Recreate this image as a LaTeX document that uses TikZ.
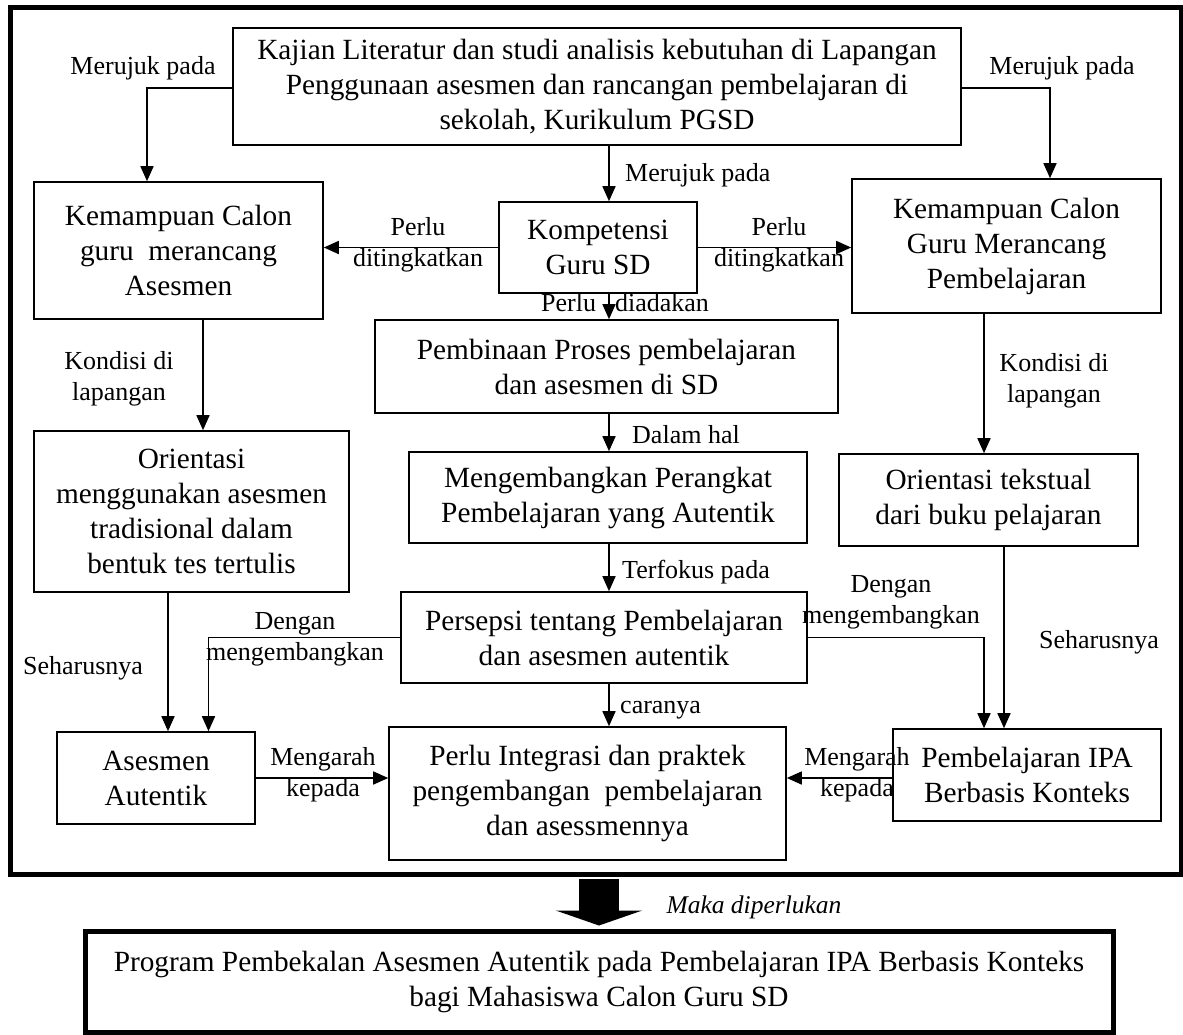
\documentclass[tikz,border=0pt]{standalone}
\usepackage{fontspec}
\setmainfont{Liberation Serif}
\usetikzlibrary{arrows.meta}
\begin{document}
\begin{tikzpicture}[x=1pt,y=-1pt,
 box/.style={draw, line width=1.6pt, align=center, inner sep=0pt, font=\fontsize{29.3}{35}\selectfont},
 lbl/.style={align=center, inner sep=0pt, font=\fontsize{26}{31}\selectfont},
 arr/.style={line width=1.6pt, -{Triangle[length=15pt,width=13pt]}},
]
\useasboundingbox (0,0) rectangle (1183,1034);
\fill[white] (0,0) rectangle (1183,1034);

% frame
\node[draw, line width=5pt, minimum width=1171, minimum height=867, inner sep=0pt] (frame) at (595.5,441) {};

% boxes
\node[box, minimum width=728, minimum height=117] (top) at (597,86.5)
 {Kajian Literatur dan studi analisis kebutuhan di Lapangan\\Penggunaan asesmen dan rancangan pembelajaran di\\sekolah, Kurikulum PGSD};
\node[box, minimum width=289, minimum height=137] (lbox) at (178.5,250.5)
 {Kemampuan Calon\\guru\ \ merancang\\Asesmen};
\node[box, minimum width=198, minimum height=91] (komp) at (598,247.5)
 {Kompetensi\\Guru SD};
\node[box, minimum width=309, minimum height=134] (rbox) at (1006.5,246)
 {Kemampuan Calon\\Guru Merancang\\Pembelajaran};
\node[box, minimum width=463, minimum height=93] (pemb) at (606.5,366.5)
 {Pembinaan Proses pembelajaran\\dan asesmen di SD};
\node[box, minimum width=398, minimum height=91] (meng) at (608,497.5)
 {Mengembangkan Perangkat\\Pembelajaran yang Autentik};
\node[box, minimum width=315, minimum height=161] (orl) at (191.5,511.5)
 {Orientasi\\menggunakan asesmen\\tradisional dalam\\bentuk tes tertulis};
\node[box, minimum width=299, minimum height=92] (ort) at (988.5,500)
 {Orientasi tekstual\\dari buku pelajaran};
\node[box, minimum width=406, minimum height=91] (pers) at (604,637.5)
 {Persepsi tentang Pembelajaran\\dan asesmen autentik};
\node[box, minimum width=198, minimum height=92] (ases) at (156,778)
 {Asesmen\\Autentik};
\node[box, minimum width=397, minimum height=133] (integ) at (587.5,793.5)
 {Perlu Integrasi dan praktek\\pengembangan\ \ pembelajaran\\dan asessmennya};
\node[box, minimum width=268, minimum height=92] (ipa) at (1027,775)
 {Pembelajaran IPA\\Berbasis Konteks};
\node[box, line width=5pt, minimum width=1028, minimum height=101] (prog) at (599,981.5)
 {Program Pembekalan Asesmen Autentik pada Pembelajaran IPA Berbasis Konteks\\bagi Mahasiswa Calon Guru SD};

% helper columns
\coordinate (colx) at (609,0);
\coordinate (c1) at (147,0);
\coordinate (c2) at (1050,0);
\coordinate (c7) at (203,0);
\coordinate (c9) at (984,0);
\coordinate (c11) at (168,0);
\coordinate (c12) at (208.5,0);
\coordinate (c15) at (1004,0);

% connectors
\draw[arr] ([yshift=-1.5pt]top.west) -| (c1 |- lbox.north);
\draw[arr] ([yshift=-1.5pt]top.east) -| (c2 |- rbox.north);
\draw[arr] (top.south -| colx) -- (komp.north -| colx);
\draw[arr] (komp.west) -- (komp.west -| lbox.east);
\draw[arr] (komp.east) -- (komp.east -| rbox.west);
\draw[arr] (komp.south -| colx) -- (pemb.north -| colx);
\draw[arr] (lbox.south -| c7) -- (orl.north -| c7);
\draw[arr] (pemb.south -| colx) -- (meng.north -| colx);
\draw[arr] (rbox.south -| c9) -- (ort.north -| c9);
\draw[arr] (meng.south -| colx) -- (pers.north -| colx);
\draw[arr] (orl.south -| c11) -- (ases.north -| c11);
\draw[arr] (pers.west) -| (c12 |- ases.north);
\draw[arr] (pers.south -| colx) -- (integ.north -| colx);
\draw[arr] (pers.east) -| (c9 |- ipa.north);
\draw[arr] (ort.south -| c15) -- (ipa.north -| c15);
\draw[arr] (ases.east) -- (ases.east -| integ.west);
\draw[arr] ([yshift=-3pt]ipa.west) -- ([yshift=-3pt]ipa.west -| integ.east);

% big arrow
\coordinate (bx) at (599,0);
\draw[line width=40pt, -{Triangle[length=15pt,width=86pt]}] ([yshift=-2pt]frame.south -| bx) -- ([yshift=3pt]prog.north -| bx);

% labels
\node[lbl] (l1) at (143,68) {Merujuk pada};
\node[lbl] (l2) at (1062,68) {Merujuk pada};
\node[lbl, anchor=west] (l3) at (625,175) {Merujuk pada};
\node[lbl] (l4) at (418,245) {Perlu\\ditingkatkan};
\node[lbl] (l5) at (779,245) {Perlu\\ditingkatkan};
\node[lbl, anchor=west] (l6) at (541,303) {Perlu\hspace{19pt}diadakan};
\node[lbl] (l7) at (119,379) {Kondisi di\\lapangan};
\node[lbl, anchor=west] (l8) at (632,435) {Dalam hal};
\node[lbl] (l9) at (1054,381) {Kondisi di\\lapangan};
\node[lbl, anchor=west] (l10) at (622,572) {Terfokus pada};
\node[lbl] (l11) at (83,668) {Seharusnya};
\node[lbl] (l12) at (295,639) {Dengan\\mengembangkan};
\node[lbl, anchor=west] (l13) at (620,710) {caranya};
\node[lbl] (l14) at (891,602) {Dengan\\mengembangkan};
\node[lbl] (l15) at (1099,642) {Seharusnya};
\node[lbl] (l16) at (323,775) {Mengarah\\kepada};
\node[lbl] (l17) at (857,775) {Mengarah\\kepada};
\node[lbl, font=\fontsize{25.5}{30}\selectfont\itshape] (l18) at (754,907) {Maka diperlukan};
\end{tikzpicture}
\end{document}
